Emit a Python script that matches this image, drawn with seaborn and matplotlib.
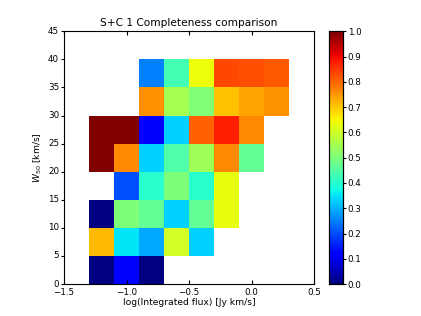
import numpy as np
import pandas as pd
import matplotlib
matplotlib.use("Agg")
import matplotlib.pyplot as plt
import seaborn as sns

# bin edges of the completeness grid
flux_edges = [-1.3, -1.1, -0.9, -0.7, -0.5, -0.3, -0.1, 0.1, 0.3]
w50_edges = [0, 5, 10, 15, 20, 25, 30, 35, 40]

# completeness per W50 bin (bottom row first), one value per flux bin
row_0_5 = [0.0, 0.12, 0.0, np.nan, np.nan, np.nan, np.nan, np.nan]
row_5_10 = [0.714, 0.35, 0.29, 0.605, 0.33, np.nan, np.nan, np.nan]
row_10_15 = [0.0, 0.50, 0.47, 0.33, 0.47, 0.63, np.nan, np.nan]
row_15_20 = [np.nan, 0.20, 0.40, 0.50, 0.40, 0.63, np.nan, np.nan]
row_20_25 = [1.0, 0.762, 0.33, 0.447, 0.545, 0.762, 0.47, np.nan]
row_25_30 = [1.0, 1.0, 0.12, 0.33, 0.805, 0.878, 0.762, np.nan]
row_30_35 = [np.nan, np.nan, 0.756, 0.55, 0.505, 0.705, 0.735, 0.75]
row_35_40 = [np.nan, np.nan, 0.25, 0.43, 0.64, 0.834, 0.826, 0.815]

xticks = [-1.5, -1.0, -0.5, 0.0, 0.5]
yticks = [0, 5, 10, 15, 20, 25, 30, 35, 40, 45]
cticks = [0.0, 0.1, 0.2, 0.3, 0.4, 0.5, 0.6, 0.7, 0.8, 0.9, 1.0]

grid = pd.DataFrame(
    [row_0_5, row_5_10, row_10_15, row_15_20, row_20_25, row_25_30, row_30_35, row_35_40],
    index=w50_edges[:-1], columns=flux_edges[:-1])

dx = flux_edges[1] - flux_edges[0]
dy = w50_edges[1] - w50_edges[0]

def to_x(v):
    return (np.asarray(v) - flux_edges[0]) / dx

def to_y(v):
    return (np.asarray(v) - w50_edges[0]) / dy

def fmt(v):
    return ('%.1f' % v).replace('-', '\u2212')

plt.rcParams['font.family'] = ['DejaVu Sans']
fig = plt.figure(figsize=(4.21, 3.16), dpi=100)
ax = fig.add_axes([0.152, 0.101, 0.594, 0.80])
cax = fig.add_axes([0.781, 0.101, 0.033, 0.80])

sns.heatmap(grid, ax=ax, cbar_ax=cax, cmap='jet', vmin=0, vmax=1)

ax.set_xlim(to_x(-1.5), to_x(0.5))
ax.set_ylim(to_y(0), to_y(45))
ax.set_xticks(to_x(xticks))
ax.set_xticklabels([fmt(t) for t in xticks], rotation=0)
ax.set_yticks(to_y(yticks))
ax.set_yticklabels([str(t) for t in yticks], rotation=0)
for s in ax.spines.values():
    s.set_visible(True)
    s.set_linewidth(0.8)
ax.tick_params(axis='x', direction='in', top=True, labelsize=6.3, length=3, pad=2.5)
ax.tick_params(axis='y', direction='out', labelsize=6.3, length=2, pad=1.5)

ax.set_title('S+C 1 Completeness comparison', fontsize=7.6, pad=4)
ax.set_xlabel('log(Integrated flux) [Jy km/s]', fontsize=6.6, labelpad=1)
ax.set_ylabel('$W_{50}$ [km/s]', fontsize=6.6, labelpad=3)

cax.set_yticks(cticks)
cax.set_yticklabels([fmt(t) for t in cticks])
cax.tick_params(labelsize=6.3, direction='out', length=2, pad=1.5)
for s in cax.spines.values():
    s.set_visible(True)
    s.set_linewidth(0.8)

fig.savefig('out.png', dpi=100)
